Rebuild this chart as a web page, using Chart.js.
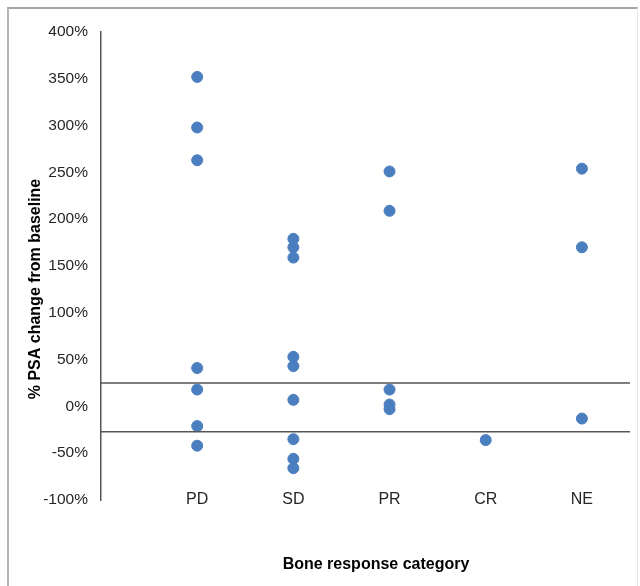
<!DOCTYPE html>
<html>
<head>
<meta charset="utf-8">
<title>PSA change by bone response</title>
<script src="https://cdn.jsdelivr.net/npm/chart.js@4/dist/chart.umd.min.js"></script>
<style>
  html, body { margin: 0; padding: 0; background: #fff; }
  #wrap { position: relative; width: 640px; height: 586px; overflow: hidden; }
  #frame {
    position: absolute; left: 7px; top: 7px; width: 628px; height: 600px;
    border-top: 2px solid #a6a6a6; border-left: 2px solid #b4b4b4; border-right: 1px solid #e6e6e6;
  }
  #chart { position: absolute; left: 0; top: 0; }
</style>
</head>
<body>
<div id="wrap">
  <div id="frame"></div>
  <canvas id="chart" width="640" height="586"></canvas>
</div>
<script>
// Categories on the x axis
const categories = ['PD', 'SD', 'PR', 'CR', 'NE'];

// % PSA change from baseline, per bone response category
const pdValues = [352, 298, 263, 41, 18, -21, -42];
const sdValues = [179, 170, 159, 53, 43, 7, -35, -56, -66];
const prValues = [251, 209, 18, 2, -3];
const crValues = [-36];
const neValues = [254, 170, -13];

// Horizontal reference lines
const thresholds = [25, -27];

// y axis range
const yMin = -100;
const yMax = 400;
const yStep = 50;

const seriesValues = [pdValues, sdValues, prValues, crValues, neValues];

const points = [];
seriesValues.forEach((vals, i) => {
    vals.forEach(v => points.push({ x: i + 1, y: v }));
});

const font = "'Liberation Sans', Arial, Helvetica, sans-serif";
const blue = '#4a7ebf';
const lineGrey = '#555555';
const xMax = 5.5;

const thresholdSets = thresholds.map(t => ({
    type: 'line',
    data: [{ x: 0, y: t }, { x: xMax, y: t }],
    borderColor: lineGrey,
    borderWidth: 1.5,
    pointRadius: 0,
    fill: false,
    order: 0
}));

// category labels sit level with the bottom of the plot, axis titles where the reference puts them
const axisText = {
    id: 'axisText',
    afterDraw(chart) {
        const ctx = chart.ctx;
        const xScale = chart.scales.x;
        const bottom = chart.chartArea.bottom;
        ctx.save();
        ctx.textAlign = 'center';
        ctx.textBaseline = 'middle';
        ctx.fillStyle = '#262626';
        ctx.font = '16px ' + font;
        categories.forEach((c, i) => {
            ctx.fillText(c, xScale.getPixelForValue(i + 1), bottom);
        });
        ctx.fillStyle = '#000';
        ctx.font = 'bold 16px ' + font;
        ctx.fillText('Bone response category', 376, 565);
        ctx.translate(36, 289);
        ctx.rotate(-Math.PI / 2);
        ctx.fillText('% PSA change from baseline', 0, 0);
        ctx.restore();
    }
};

new Chart(document.getElementById('chart').getContext('2d'), {
    type: 'scatter',
    data: {
        datasets: [{
            label: '% PSA change',
            data: points,
            backgroundColor: blue,
            borderColor: blue,
            borderWidth: 1,
            pointRadius: 5.5,
            pointHoverRadius: 5.5,
            order: 1
        }].concat(thresholdSets)
    },
    options: {
        responsive: false,
        animation: false,
        layout: { padding: { left: 0, top: 32, right: 10, bottom: 0 } },
        plugins: {
            legend: { display: false },
            tooltip: { enabled: false }
        },
        scales: {
            x: {
                type: 'linear',
                min: 0,
                max: xMax,
                grid: { display: false, drawTicks: false },
                border: { display: false },
                afterFit: scale => { scale.height = 86; },
                ticks: { display: false, stepSize: 1 }
            },
            y: {
                min: yMin,
                max: yMax,
                grid: { display: false, drawTicks: false },
                border: { display: true, color: lineGrey, width: 1.5 },
                afterFit: scale => { scale.width = 101; },
                ticks: {
                    stepSize: yStep,
                    padding: 13,
                    color: '#262626',
                    font: { family: font, size: 15.5 },
                    callback: v => v + '%'
                }
            }
        }
    },
    plugins: [axisText]
});
</script>
</body>
</html>
